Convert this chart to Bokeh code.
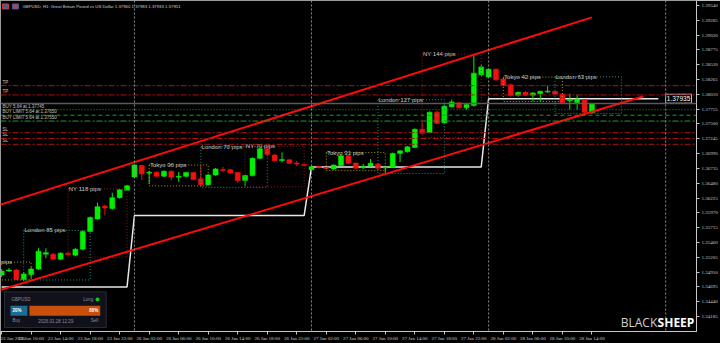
from bokeh.plotting import figure
from bokeh.models import Range1d, FixedTicker, NumeralTickFormatter, Span, Label
from bokeh.core.properties import value
from bokeh.embed import file_html
from bokeh.resources import INLINE

# ---------------- data ----------------
symbol_title = "GBPUSD, H1:  Great Britain Pound vs US Dollar  1.37960 1.37983 1.37933 1.37951"

bars = list(range(81))
opens = [
    1.34901, 1.34969, 1.34986, 1.34823, 1.34910, 1.35003, 1.35259, 1.35259, 1.35173, 1.35276,
    1.35242, 1.35344, 1.35651, 1.35864, 1.36086, 1.36043, 1.36231, 1.36359, 1.36589, 1.36785,
    1.36652, 1.36669, 1.36601, 1.36686, 1.36584, 1.36598, 1.36666, 1.36555, 1.36453, 1.36623,
    1.36717, 1.36714, 1.36666, 1.36526, 1.36611, 1.36908, 1.37075, 1.36964, 1.36870, 1.36884,
    1.36828, 1.36802, 1.36714, 1.36768, 1.36751, 1.36726, 1.36785, 1.36952, 1.36828, 1.36748,
    1.36777, 1.36811, 1.36743, 1.36755, 1.36993, 1.37021, 1.37096, 1.37408, 1.37352, 1.37703,
    1.37522, 1.37795, 1.37863, 1.37778, 1.37817, 1.38346, 1.38307, 1.38443, 1.38273, 1.38175,
    1.37993, 1.38044, 1.37993, 1.38022, 1.38048, 1.38061, 1.38017, 1.37900, 1.37863, 1.37920,
    1.37693]
highs = [
    1.35003, 1.35020, 1.35003, 1.34952, 1.35037, 1.35361, 1.35361, 1.35276, 1.35293, 1.35293,
    1.35361, 1.35668, 1.35907, 1.36146, 1.36112, 1.36316, 1.36384, 1.36453, 1.36811, 1.36794,
    1.36692, 1.36683, 1.36700, 1.36700, 1.36674, 1.36674, 1.36674, 1.36782, 1.36640, 1.36743,
    1.36760, 1.36726, 1.36674, 1.36623, 1.36922, 1.37092, 1.37092, 1.36981, 1.37010, 1.36896,
    1.36862, 1.36811, 1.36777, 1.36777, 1.36760, 1.36802, 1.36973, 1.36964, 1.36837, 1.36811,
    1.36896, 1.36819, 1.36768, 1.37007, 1.37050, 1.37118, 1.37425, 1.37522, 1.37715, 1.37732,
    1.37834, 1.37920, 1.37877, 1.37851, 1.38687, 1.38517, 1.38457, 1.38457, 1.38307, 1.38193,
    1.38056, 1.38065, 1.38048, 1.38073, 1.38158, 1.38073, 1.38022, 1.38022, 1.38005, 1.37928,
    1.37860]
lows = [
    1.34867, 1.34952, 1.34815, 1.34798, 1.34849, 1.34986, 1.35190, 1.35156, 1.35156, 1.35224,
    1.35224, 1.35327, 1.35634, 1.35856, 1.35924, 1.36026, 1.36214, 1.36350, 1.36572, 1.36538,
    1.36470, 1.36589, 1.36589, 1.36526, 1.36504, 1.36581, 1.36529, 1.36436, 1.36436, 1.36606,
    1.36674, 1.36640, 1.36487, 1.36431, 1.36598, 1.36896, 1.36956, 1.36853, 1.36840, 1.36811,
    1.36777, 1.36768, 1.36700, 1.36734, 1.36717, 1.36709, 1.36777, 1.36811, 1.36726, 1.36726,
    1.36768, 1.36726, 1.36640, 1.36743, 1.36845, 1.37007, 1.37084, 1.37323, 1.37340, 1.37493,
    1.37510, 1.37783, 1.37766, 1.37749, 1.37800, 1.38329, 1.38295, 1.38244, 1.38150, 1.37971,
    1.37971, 1.37979, 1.37891, 1.37891, 1.38039, 1.38005, 1.37860, 1.37749, 1.37749, 1.37689,
    1.37681]
closes = [
    1.34969, 1.34986, 1.34823, 1.34918, 1.35003, 1.35310, 1.35285, 1.35173, 1.35276, 1.35250,
    1.35344, 1.35651, 1.35890, 1.36077, 1.36052, 1.36231, 1.36367, 1.36436, 1.36794, 1.36640,
    1.36669, 1.36601, 1.36686, 1.36584, 1.36601, 1.36666, 1.36543, 1.36453, 1.36623, 1.36726,
    1.36700, 1.36657, 1.36521, 1.36611, 1.36908, 1.37075, 1.36973, 1.36867, 1.36887, 1.36823,
    1.36811, 1.36785, 1.36765, 1.36751, 1.36734, 1.36794, 1.36952, 1.36823, 1.36738, 1.36772,
    1.36823, 1.36738, 1.36760, 1.36993, 1.37038, 1.37106, 1.37408, 1.37340, 1.37703, 1.37510,
    1.37805, 1.37880, 1.37778, 1.37834, 1.38375, 1.38482, 1.38443, 1.38261, 1.38163, 1.37988,
    1.38044, 1.37993, 1.38034, 1.38061, 1.38065, 1.38017, 1.37863, 1.37917, 1.37931, 1.37703,
    1.37851]

x_tick_bars = [0, 4, 8, 12, 16, 20, 24, 28, 32, 36, 40, 44, 48, 52, 56, 60, 64, 68, 72, 76, 80]
x_tick_labels = ["23 Jan 2026", "23 Jan 10:00", "23 Jan 14:00", "23 Jan 18:00", "23 Jan 22:00",
                 "26 Jan 02:00", "26 Jan 06:00", "26 Jan 10:00", "26 Jan 14:00", "26 Jan 18:00",
                 "26 Jan 22:00", "27 Jan 02:00", "27 Jan 06:00", "27 Jan 10:00", "27 Jan 14:00",
                 "27 Jan 18:00", "27 Jan 22:00", "28 Jan 02:00", "28 Jan 06:00", "28 Jan 10:00",
                 "28 Jan 14:00"]
y_tick_values = [1.39540, 1.39285, 1.39030, 1.38775, 1.38520, 1.38265, 1.38010, 1.37755,
                 1.37500, 1.37245, 1.36990, 1.36735, 1.36480, 1.36225, 1.35970, 1.35715,
                 1.35460, 1.35205, 1.34950, 1.34695, 1.34440, 1.34185]

session_names = ["Tokyo", "London", "NY", "Tokyo", "London", "NY", "Tokyo", "London", "NY", "Tokyo", "London"]
session_start = [-4, 3, 9, 20, 27, 33, 44, 51, 57, 68, 75]
session_end = [4, 12, 17, 28, 36, 41, 52, 60, 65, 76, 84]
session_high = [1.35122, 1.35668, 1.36384, 1.36794, 1.37109, 1.37118, 1.37007, 1.37918, 1.38704, 1.38307, 1.38311]
session_low = [1.34815, 1.34815, 1.35207, 1.36434, 1.36409, 1.36418, 1.36697, 1.36648, 1.37264, 1.37887, 1.37681]
session_pips = [31, 85, 118, 36, 70, 70, 31, 127, 144, 42, 63]

upper_channel_bars = [-1, 80]
upper_channel_prices = [1.36078, 1.39335]
lower_channel_bars = [-1, 87]
lower_channel_prices = [1.34613, 1.37976]

day_first_bars = [0, 18, 42, 66]
day_last_bars = [17, 41, 65, 89]
day_levels = [1.34695, 1.35924, 1.36760, 1.37935]
separator_bars = [18, 42, 66, 90]

tp_levels = [1.38160, 1.38000]
sl_levels = [1.37350, 1.37250, 1.37150]
order_levels = [1.37745, 1.37650, 1.37550]
order_texts = ["BUY 5.64 at 1.37745", "BUY LIMIT 5.64 at 1.37650", "BUY LIMIT 5.64 at 1.37550"]

sentiment_symbol = "GBPUSD"
sentiment_side = "Long"
sentiment_buy = 20
sentiment_sell = 80
sentiment_time = "2026.01.28 12:29"

# ---------------- layout helpers ----------------
XPB = 7.4            # pixels per bar
X0 = -0.15
FRAME_W, FRAME_H = 698, 334
Y_TOP = 1.39625
PPX = 0.00017057     # price per pixel


def bx(px):
    return X0 + px / XPB


def py(px):
    return Y_TOP - px * PPX


p = figure(width=720, height=343,
           x_range=Range1d(X0, X0 + FRAME_W / XPB),
           y_range=Range1d(Y_TOP - FRAME_H * PPX, Y_TOP),
           output_backend="svg", toolbar_location=None, y_axis_location="right",
           min_border=0, background_fill_color="#000000", border_fill_color="#000000")
p.grid.visible = False
p.outline_line_color = "#9a9a9a"

AX = "#c8c8c8"
for ax in (p.xaxis[0], p.yaxis[0]):
    ax.axis_line_color = AX
    ax.major_tick_line_color = AX
    ax.minor_tick_line_color = None
    ax.major_tick_in = 0
    ax.major_tick_out = 3
    ax.major_label_text_color = AX
    ax.major_label_text_font = "Liberation Serif"
    ax.major_label_text_font_size = "5px"
p.xaxis.ticker = FixedTicker(ticks=x_tick_bars)
p.xaxis.major_label_overrides = {b: s for b, s in zip(x_tick_bars, x_tick_labels)}
p.xaxis.major_label_standoff = 1
p.xaxis.major_label_text_align = "left"
p.yaxis.ticker = FixedTicker(ticks=y_tick_values)
p.yaxis.formatter = NumeralTickFormatter(format="0.00000")
p.yaxis.major_label_standoff = 2

# ---------------- daily reference line ----------------
dx, dy = [], []
for f, l, v in zip(day_first_bars, day_last_bars, day_levels):
    dx += [f, l]
    dy += [v, v]
p.line(dx, dy, line_color="#e8e8e8", line_width=1.5)

# ---------------- candles ----------------
up = [c >= o for o, c in zip(opens, closes)]
GREEN, RED = "#00f000", "#f01010"
cols = [GREEN if u else RED for u in up]
p.segment(x0=bars, y0=lows, x1=bars, y1=highs, line_color=cols, line_width=1)
p.vbar(x=bars, width=0.68, top=[max(o, c) for o, c in zip(opens, closes)],
       bottom=[min(o, c) for o, c in zip(opens, closes)], fill_color=cols, line_color=cols, line_width=0.5)

# ---------------- sessions ----------------
sess_col = {"Tokyo": "#a89e14", "London": "#1f8e8e", "NY": "#8e1c1c"}
p.quad(left=session_start, right=session_end, top=session_high, bottom=session_low,
       fill_color=None, line_color=[sess_col[n] for n in session_names], line_dash="1 2", line_width=1)
# a label whose session began before the first visible bar shows only its visible tail
lab_x, lab_t = [], []
for n, v, s in zip(session_names, session_pips, session_start):
    if s < 0:
        lab_x.append(bx(0.5))
        lab_t.append("pips")
    else:
        lab_x.append(s + 0.1)
        lab_t.append(f"{n}  {v} pips")
p.text(x=lab_x, y=session_high, text=lab_t,
       text_font=value("Liberation Sans"), text_font_size="6px", text_color="#c4c4c4",
       text_align="left", text_baseline="middle")

# ---------------- channel ----------------
p.line(upper_channel_bars, upper_channel_prices, line_color="#ff0a0a", line_width=2)
p.line(lower_channel_bars, lower_channel_prices, line_color="#ff0a0a", line_width=2)

# ---------------- horizontal levels ----------------
for lv in tp_levels + sl_levels:
    p.add_layout(Span(location=lv, dimension="width", line_color="#a81414", line_dash="6 2 2 2", line_width=1))
for lv, dash in zip(order_levels, ["1 2", "4 3", "6 2 2 2"]):
    p.add_layout(Span(location=lv, dimension="width", line_color="#1e9e1e", line_dash=dash, line_width=1))
bid = closes[-1]
p.add_layout(Span(location=bid, dimension="width", line_color="#5a5a5a", line_width=1.5))
for b in separator_bars:
    p.add_layout(Span(location=b, dimension="height", line_color="#8c8c8c", line_dash="2 2", line_width=1))

lvl_texts = ["TP"] * len(tp_levels) + order_texts + ["SL"] * len(sl_levels)
lvl_vals = tp_levels + order_levels + sl_levels
p.text(x=[bx(2)] * len(lvl_vals), y=[v + PPX for v in lvl_vals], text=lvl_texts,
       text_font=value("Liberation Sans"), text_font_size="4.5px", text_color="#c8c8c8",
       text_align="left", text_baseline="bottom")

# label of daily reference line
p.quad(left=[bx(667)], right=[bx(693)], top=[day_levels[-1] + 4.5 * PPX], bottom=[day_levels[-1] - 4.5 * PPX],
       fill_color="#000000", line_color="#b8b8b8", line_width=1)
p.text(x=[bx(680)], y=[day_levels[-1]], text=[f"{day_levels[-1]:.5f}"], text_font=value("Liberation Sans"),
       text_font_size="6.5px", text_color="#ffffff", text_align="center", text_baseline="middle")

# bid tag on the price axis
p.add_layout(Label(x=bx(699), y=bid, text=f"{bid:.5f}", text_font="Liberation Serif", text_font_size="5px",
                   text_color="#ffffff", text_baseline="middle", background_fill_color="#707070"))

# ---------------- header ----------------
p.quad(left=[bx(2), bx(12)], right=[bx(8), bx(18)], top=[py(3.5), py(3.5)], bottom=[py(8.5), py(8.5)],
       fill_color=["#3b5ea8", "#c83c3c"], line_color=["#c83c3c", "#3b5ea8"], line_width=1)
p.text(x=[bx(22)], y=[py(6)], text=[symbol_title], text_font=value("Liberation Sans"),
       text_font_size="4.3px", text_color="#d0d0d0", text_align="left", text_baseline="middle")

# ---------------- sentiment panel ----------------
p.quad(left=[bx(4)], right=[bx(106)], top=[py(294)], bottom=[py(330)],
       fill_color="#11111c", line_color="#2a2a3a", line_width=1)
bar_l, bar_r = 10, 100
split = bar_l + (bar_r - bar_l) * sentiment_buy / (sentiment_buy + sentiment_sell)
p.quad(left=[bx(bar_l), bx(split + 1)], right=[bx(split - 1), bx(bar_r)], top=[py(308)] * 2, bottom=[py(318)] * 2,
       fill_color=["#1b6d92", "#c8500c"], line_color=None)
p.text(x=[bx(12), bx(98)], y=[py(313)] * 2, text=[f"{sentiment_buy}%", f"{sentiment_sell}%"],
       text_align=["left", "right"], text_font=value("Liberation Sans"), text_font_size="4.5px",
       text_color="#ffffff", text_font_style="bold", text_baseline="middle")
p.text(x=[bx(11), bx(93)], y=[py(302)] * 2, text=[sentiment_symbol, sentiment_side],
       text_align=["left", "right"], text_font=value("Liberation Sans"), text_font_size="4.5px",
       text_color="#8a8a9c", text_baseline="middle")
p.scatter(x=[bx(97.3)], y=[py(301.7)], size=4, fill_color="#22c022", line_color=None)
p.text(x=[bx(12), bx(98), bx(55.5)], y=[py(322.7), py(322.7), py(324.3)], text=["Buy", "Sell", sentiment_time],
       text_align=["left", "right", "center"], text_font=value("Liberation Sans"), text_font_size="4.5px",
       text_color="#8a8a9c", text_baseline="middle")

# ---------------- logo ----------------
p.text(x=[bx(622)], y=[py(325)], text=["BLACK"], text_font=value("Open Sans"), text_font_size="12px",
       text_color="#d0d0d0", text_align="left", text_baseline="alphabetic")
p.text(x=[bx(659)], y=[py(325)], text=["SHEEP"], text_font=value("Open Sans"), text_font_size="12px",
       text_color="#ffffff", text_font_style="bold", text_align="left", text_baseline="alphabetic")

open("out.html", "w").write(file_html(p, INLINE))
